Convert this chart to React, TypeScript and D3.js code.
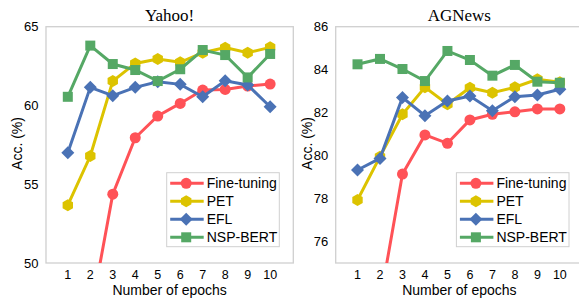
import React from 'react';
import * as d3 from 'd3';

const epochs = [1, 2, 3, 4, 5, 6, 7, 8, 9, 10];

// Yahoo! values
const yahooFT = [38, 46.6, 54.37, 57.95, 59.33, 60.13, 60.98, 61.02, 61.23, 61.36];
const yahooPET = [53.67, 56.79, 61.55, 62.67, 62.95, 62.74, 63.35, 63.67, 63.35, 63.69];
const yahooEFL = [57.0, 61.15, 60.62, 61.15, 61.5, 61.34, 60.55, 61.57, 61.3, 59.92];
const yahooNSP = [60.55, 63.8, 62.63, 62.25, 61.55, 62.3, 63.52, 63.2, 61.78, 63.27];
const yahooTicks = [50, 55, 60, 65];

// AGNews values
const agFT = [70, 73.2, 79.14, 80.96, 80.57, 81.66, 81.92, 82.04, 82.17, 82.17];
const agPET = [77.93, 79.95, 81.92, 83.18, 82.39, 83.16, 82.93, 83.18, 83.55, 83.41];
const agEFL = [79.33, 79.87, 82.7, 81.86, 82.54, 82.77, 82.09, 82.74, 82.82, 83.09];
const agNSP = [84.25, 84.5, 84.03, 83.47, 84.87, 84.45, 83.72, 84.22, 83.44, 83.39];
const agTicks = [76, 78, 80, 82, 84, 86];

const seriesNames = ['Fine-tuning', 'PET', 'EFL', 'NSP-BERT'];
const colors = ['#ff5257', '#dcc300', '#4a72b5', '#55a865'];

const top = 26.7, bottom = 263, plotW = 247.3;

function Marker({ kind, x, y, color }: { kind: number; x: number; y: number; color: string }) {
  if (kind === 0) return <circle cx={x} cy={y} r={5.5} fill={color} />;
  if (kind === 1) {
    const r = 6;
    const pts = d3.range(6).map(i => {
      const a = Math.PI / 6 + (i * Math.PI) / 3;
      return [x + r * Math.cos(a), y + r * Math.sin(a)].join(',');
    });
    return <polygon points={pts.join(' ')} fill={color} />;
  }
  if (kind === 2) {
    const r = 6.5;
    return <polygon points={`${x},${y - r} ${x + r},${y} ${x},${y + r} ${x - r},${y}`} fill={color} />;
  }
  return <rect x={x - 5} y={y - 5} width={10} height={10} fill={color} />;
}

function Panel({ left, title, data, domain, ticks, id }: any) {
  const x = d3.scaleLinear().domain([0.03, 11.03]).range([left, left + plotW]);
  const y = d3.scaleLinear().domain(domain).range([bottom, top]);
  const line = d3.line<number>().x((_, i) => x(epochs[i])).y(d => y(d));
  const lx = left + 120.7, ly = 172.7;
  return (
    <g>
      <defs>
        <clipPath id={id}>
          <rect x={left} y={top} width={plotW} height={bottom - top} />
        </clipPath>
      </defs>
      <rect x={left} y={top} width={plotW} height={bottom - top} fill="none" stroke="#cfcfcf" strokeWidth={1.3} />
      <text x={left + plotW / 2} y={20.5} textAnchor="middle" fontFamily="Liberation Serif" fontSize={17}>{title}</text>
      {ticks.map((t: number) => (
        <text key={t} x={left - 7.5} y={y(t) + 4.5} textAnchor="end" fontFamily="Liberation Sans" fontSize={13}>{t}</text>
      ))}
      {epochs.map(e => (
        <text key={e} x={x(e)} y={278.5} textAnchor="middle" fontFamily="Liberation Sans" fontSize={12.5}>{e}</text>
      ))}
      <text x={left + plotW / 2} y={294.5} textAnchor="middle" fontFamily="Liberation Sans" fontSize={14}>Number of epochs</text>
      <text transform={`translate(${left - 24},${143.5}) rotate(-90)`} textAnchor="middle" fontFamily="Liberation Sans" fontSize={14}>Acc. (%)</text>
      <g clipPath={`url(#${id})`}>
        {data.map((s: number[], k: number) => (
          <g key={k}>
            <path d={line(s) || ''} fill="none" stroke={colors[k]} strokeWidth={3} />
            {s.map((v, i) => <Marker key={i} kind={k} x={x(epochs[i])} y={y(v)} color={colors[k]} />)}
          </g>
        ))}
      </g>
      <rect x={lx} y={ly} width={112.6} height={74} fill="white" stroke="#d0d0d0" strokeWidth={1} />
      {seriesNames.map((n, k) => {
        const yy = ly + 10.6 + k * 18;
        return (
          <g key={n}>
            <line x1={lx + 3.5} x2={lx + 37} y1={yy} y2={yy} stroke={colors[k]} strokeWidth={3} />
            <Marker kind={k} x={lx + 19.5} y={yy} color={colors[k]} />
            <text x={lx + 40} y={yy + 5} fontFamily="Liberation Sans" fontSize={14}>{n}</text>
          </g>
        );
      })}
    </g>
  );
}

export default function App() {
  return (
    <svg width={579} height={298} style={{ position: 'absolute', left: 0, top: 0, background: 'white' }}>
      <Panel id="c1" left={46} title="Yahoo!" data={[yahooFT, yahooPET, yahooEFL, yahooNSP]} domain={[50, 65]} ticks={yahooTicks} />
      <Panel id="c2" left={335.7} title="AGNews" data={[agFT, agPET, agEFL, agNSP]} domain={[75, 86]} ticks={agTicks} />
    </svg>
  );
}
